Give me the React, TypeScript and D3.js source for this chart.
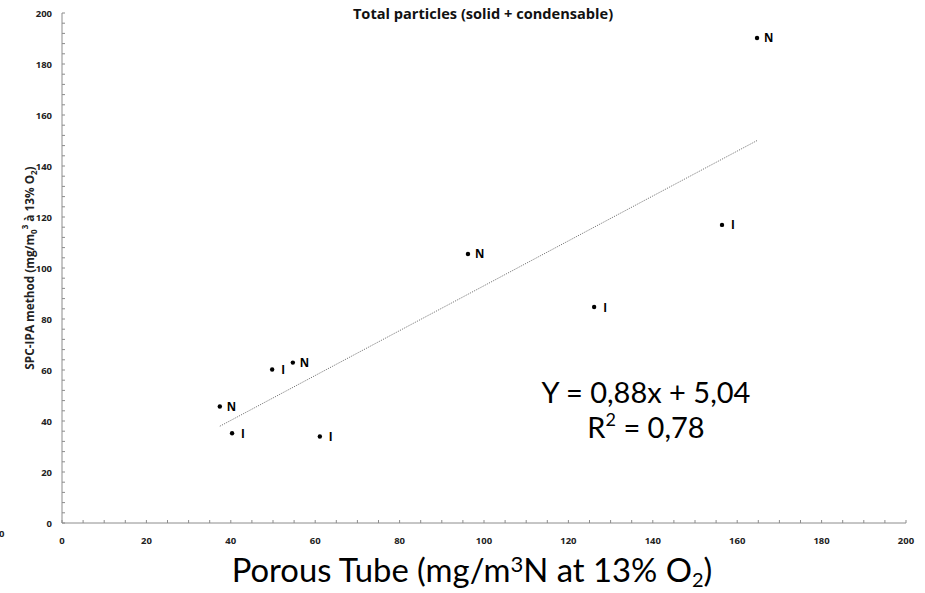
import React from "react";
import * as d3 from "d3";

const xValues = [164.7, 156.4, 96.2, 126.1, 49.8, 54.7, 37.4, 40.3, 61.1];
const yValues = [190.2, 116.9, 105.5, 84.7, 60.2, 62.9, 45.7, 35.2, 33.9];
const pointLabels = ["N", "I", "N", "I", "I", "N", "N", "I", "I"];
const xTicks = [0, 20, 40, 60, 80, 100, 120, 140, 160, 180, 200];
const yTicks = [0, 20, 40, 60, 80, 100, 120, 140, 160, 180, 200];
const slope = 0.88;
const intercept = 5.04;

const W = 925;
const H = 593;
const left = 62;
const right = 906;
const top = 13;
const bottom = 523;

export default function App() {
  const x = d3.scaleLinear().domain([0, 200]).range([left, right]);
  const y = d3.scaleLinear().domain([0, 200]).range([bottom, top]);
  const xMinor = d3.range(0, 201, 5);
  const yMinor = d3.range(0, 201, 4);
  const xmin = d3.min(xValues) as number;
  const xmax = d3.max(xValues) as number;
  const tickFont = "'Open Sans', sans-serif";
  const axisColor = "#8c8c8c";
  return (
    <svg width={W} height={H} style={{ position: "absolute", left: 0, top: 0, background: "#fff" }}>
      <text x={483} y={19} textAnchor="middle" fontFamily={tickFont} fontWeight="bold" fontSize={14.6} fill="#111">
        Total particles (solid + condensable)
      </text>
      {/* axes */}
      <line x1={left} x2={left} y1={top} y2={bottom} stroke={axisColor} strokeWidth={1} />
      <line x1={left} x2={right} y1={bottom} y2={bottom} stroke={axisColor} strokeWidth={1} />
      {yMinor.map((v) => (
        <line key={"ym" + v} x1={left} x2={left + 3} y1={y(v)} y2={y(v)} stroke={axisColor} />
      ))}
      {xMinor.map((v) => (
        <line key={"xm" + v} x1={x(v)} x2={x(v)} y1={bottom} y2={bottom - 3} stroke={axisColor} />
      ))}
      {yTicks.map((v) => (
        <text key={"yt" + v} x={52} y={y(v) + 3.5} textAnchor="end" fontFamily={tickFont} fontWeight="bold" fontSize={9.5} fill="#222">
          {v}
        </text>
      ))}
      {xTicks.map((v) => (
        <text key={"xt" + v} x={x(v)} y={544} textAnchor="middle" fontFamily={tickFont} fontWeight="bold" fontSize={9.5} fill="#222">
          {v}
        </text>
      ))}
      <text x={-1} y={537} fontFamily={tickFont} fontWeight="bold" fontSize={9.5} fill="#222">0</text>
      {/* y label */}
      <text transform="translate(34,268) rotate(-90)" textAnchor="middle" fontFamily={tickFont} fontWeight="bold" fontSize={11.8} fill="#222">
        SPC-IPA method (mg/m
        <tspan fontSize={8} dy={3}>0</tspan>
        <tspan fontSize={8} dy={-9}>3</tspan>
        <tspan dy={6}> à 13% O</tspan>
        <tspan fontSize={8} dy={3}>2</tspan>
        <tspan dy={-3}>)</tspan>
      </text>
      {/* trend line */}
      <line
        x1={x(xmin)}
        y1={y(slope * xmin + intercept)}
        x2={x(xmax)}
        y2={y(slope * xmax + intercept)}
        stroke="#777"
        strokeWidth={1}
        strokeDasharray="1.2,1.2"
      />
      {xValues.map((xv, i) => (
        <g key={"p" + i}>
          <circle cx={x(xv)} cy={y(yValues[i])} r={2.2} fill="#000" />
          <text x={x(xv) + (pointLabels[i] === "I" ? 9 : 7)} y={y(yValues[i]) + 4.5} fontFamily={tickFont} fontWeight="bold" fontSize={11.5} fill="#000">
            {pointLabels[i]}
          </text>
        </g>
      ))}
      {/* equation */}
      <text x={646} y={403} textAnchor="middle" fontFamily="Lato, sans-serif" fontSize={29} fill="#000">
        Y = 0,88x + 5,04
      </text>
      <text x={646} y={438} textAnchor="middle" fontFamily="Lato, sans-serif" fontSize={29} fill="#000">
        R<tspan fontSize={18} dy={-12}>2</tspan><tspan dy={12}> = 0,78</tspan>
      </text>
      {/* x label */}
      <text x={472} y={582} textAnchor="middle" fontFamily="Lato, sans-serif" fontSize={32.8} fill="#000">
        Porous Tube (mg/m<tspan fontSize={22} dy={-10}>3</tspan><tspan dy={10}>N at 13% O</tspan><tspan fontSize={20} dy={5}>2</tspan><tspan dy={-5}>)</tspan>
      </text>
    </svg>
  );
}
